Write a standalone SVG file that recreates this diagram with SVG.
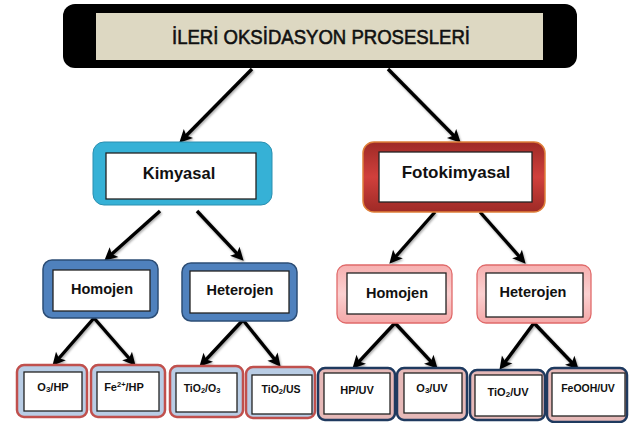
<svg xmlns="http://www.w3.org/2000/svg" width="635" height="423" viewBox="0 0 635 423">
<defs>
<style>
text{font-family:"Liberation Sans",Arial,sans-serif;fill:#111;text-anchor:middle;dominant-baseline:central}
.b{font-weight:bold}
.inner{fill:#fff;stroke:#222;stroke-width:1.3}
.blue{fill:#4F81BD;stroke:#2C4D75;stroke-width:1.5}
.pink{fill:url(#pk);stroke:#E06A6A;stroke-width:1.3}
.lb{fill:#B9CDE5;stroke:#C0504D;stroke-width:2.5}
.lp{fill:#E6B9B8;stroke:#1F3A5F;stroke-width:2.5}
.c line{stroke:#000;stroke-width:3.4;marker-end:url(#ah)}
</style>
<marker id="ah" viewBox="-5 -8 15 16" refX="0" refY="0" markerWidth="15" markerHeight="16" markerUnits="userSpaceOnUse" orient="auto">
<path d="M-4,-6.5 L9,0 L-4,6.5 L-1,0 z" fill="#000"/>
</marker>
<linearGradient id="rd" x1="0" y1="0" x2="0" y2="1">
<stop offset="0" stop-color="#9E2A26"/>
<stop offset="0.5" stop-color="#D0403C"/>
<stop offset="1" stop-color="#9E2A26"/>
</linearGradient>
<linearGradient id="pk" x1="0" y1="0" x2="0" y2="1">
<stop offset="0" stop-color="#F6B0B0"/>
<stop offset="0.5" stop-color="#FBD0D0"/>
<stop offset="1" stop-color="#F4A8A8"/>
</linearGradient>
<filter id="sh" x="-20%" y="-20%" width="140%" height="140%">
<feDropShadow dx="1" dy="1.5" stdDeviation="1.2" flood-color="#000" flood-opacity="0.35"/>
</filter>
</defs>

<g id="title">
<rect x="63" y="4" width="514" height="64" rx="12" fill="#000"/>
<rect x="96" y="13" width="447" height="47" fill="#DDD8C2"/>
<text x="321" y="36" font-size="20.5" stroke="#111" stroke-width="0.6" textLength="298" lengthAdjust="spacingAndGlyphs">İLERİ OKSİDASYON PROSESLERİ</text>
</g>

<g class="c" filter="url(#sh)">
<line x1="252" y1="69" x2="185.6" y2="136.3"/>
<line x1="388" y1="69" x2="454.4" y2="136.3"/>
<line x1="160" y1="211" x2="111" y2="254.7"/>
<line x1="197" y1="211" x2="237.5" y2="254.2"/>
<line x1="435" y1="212" x2="395.3" y2="257"/>
<line x1="480" y1="212" x2="519.7" y2="257"/>
<line x1="94" y1="318" x2="58.3" y2="359"/>
<line x1="94" y1="318" x2="129.7" y2="359"/>
<line x1="243" y1="320" x2="205.5" y2="360.2"/>
<line x1="243" y1="320" x2="275" y2="359.8"/>
<line x1="395" y1="323" x2="358.5" y2="362.2"/>
<line x1="395" y1="323" x2="431.5" y2="362.2"/>
<line x1="534" y1="323" x2="504.8" y2="362.6"/>
<line x1="534" y1="323" x2="572.5" y2="363.2"/>
</g>

<g id="kimyasal">
<rect x="93" y="142" width="179" height="63" rx="11" fill="#36B1D6" stroke="#2A8FB0" stroke-width="1"/>
<rect x="106" y="153" width="150" height="46" class="inner"/>
<text x="179" y="173" class="b" font-size="16.5">Kimyasal</text>
</g>

<g id="fotokimyasal">
<rect x="363" y="142" width="182" height="70" rx="11" fill="url(#rd)" stroke="#E0803A" stroke-width="1.5"/>
<rect x="379" y="152" width="153" height="50" class="inner"/>
<text x="456" y="172" class="b" font-size="17">Fotokimyasal</text>
</g>

<g id="homojen1">
<rect x="43" y="260" width="115" height="58" rx="9" class="blue"/>
<rect x="53" y="270" width="97" height="41" class="inner"/>
<text x="102" y="289" class="b" font-size="14.5">Homojen</text>
</g>

<g id="heterojen1">
<rect x="182" y="263" width="115" height="58" rx="9" class="blue"/>
<rect x="190" y="271" width="99" height="42" class="inner"/>
<text x="240" y="290" class="b" font-size="14.5">Heterojen</text>
</g>

<g id="homojen2">
<rect x="337" y="265" width="115" height="58" rx="9" class="pink"/>
<rect x="347" y="273" width="99" height="41" class="inner"/>
<text x="397" y="293" class="b" font-size="14.5">Homojen</text>
</g>

<g id="heterojen2">
<rect x="477" y="265" width="114" height="58" rx="9" class="pink"/>
<rect x="486" y="273" width="97" height="44" class="inner"/>
<text x="533" y="292" class="b" font-size="14.5">Heterojen</text>
</g>

<g id="o3hp">
<rect x="17" y="365" width="70" height="52" rx="7" class="lb"/>
<rect x="24" y="372" width="58" height="39" class="inner"/>
<text x="53" y="387" class="b" font-size="11">O<tspan font-size="8" dy="2">3</tspan><tspan dy="-2">/HP</tspan></text>
</g>

<g id="fehp">
<rect x="91" y="365" width="74" height="52" rx="7" class="lb"/>
<rect x="97" y="372" width="62" height="39" class="inner"/>
<text x="124" y="387" class="b" font-size="11">Fe<tspan font-size="7.5" dy="-3">2+</tspan><tspan dy="3">/HP</tspan></text>
</g>

<g id="tio2o3">
<rect x="170" y="366" width="73" height="51" rx="7" class="lb"/>
<rect x="176" y="373" width="61" height="39" class="inner"/>
<text x="202" y="388" class="b" font-size="10.5">TiO<tspan font-size="7.5" dy="2">2</tspan><tspan dy="-2">/O</tspan><tspan font-size="7.5" dy="2">3</tspan></text>
</g>

<g id="tio2us">
<rect x="246" y="367" width="69" height="51" rx="7" class="lb"/>
<rect x="252" y="375" width="60" height="39" class="inner"/>
<text x="281" y="389" class="b" font-size="10.5">TiO<tspan font-size="7.5" dy="2">2</tspan><tspan dy="-2">/US</tspan></text>
</g>

<g id="hpuv">
<rect x="318" y="368" width="77" height="52" rx="7" class="lp"/>
<rect x="324" y="373" width="66" height="41" class="inner"/>
<text x="357" y="390" class="b" font-size="11">HP/UV</text>
</g>

<g id="o3uv">
<rect x="397" y="368" width="70" height="52" rx="7" class="lp"/>
<rect x="404" y="373" width="58" height="40" class="inner"/>
<text x="432" y="388" class="b" font-size="11">O<tspan font-size="8" dy="2">3</tspan><tspan dy="-2">/UV</tspan></text>
</g>

<g id="tio2uv">
<rect x="470" y="370" width="75" height="50" rx="7" class="lp"/>
<rect x="475" y="375" width="67" height="41" class="inner"/>
<text x="508" y="392" class="b" font-size="11">TiO<tspan font-size="8" dy="2">2</tspan><tspan dy="-2">/UV</tspan></text>
</g>

<g id="feoohuv">
<rect x="547" y="368" width="80" height="54" rx="7" class="lp"/>
<rect x="552" y="373" width="73" height="43" class="inner"/>
<text x="588" y="388" class="b" font-size="10.5">FeOOH/UV</text>
</g>
</svg>
